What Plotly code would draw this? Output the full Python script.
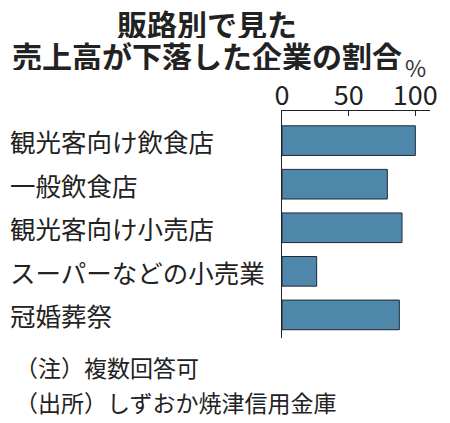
import plotly.graph_objects as go

# data (%)
categories = ['観光客向け飲食店', '一般飲食店', '観光客向け小売店', 'スーパーなどの小売業', '冠婚葬祭']
values = [100, 79, 90, 26, 88]
tick_vals = [0, 50, 100]
title_lines = ['販路別で見た', '売上高が下落した企業の割合']
notes = ['（注）複数回答可', '（出所）しずおか焼津信用金庫']

FONT = 'Noto Sans CJK JP'

fig = go.Figure(go.Bar(
    x=values, y=categories, orientation='h',
    marker=dict(color='#4f87ab', line=dict(color='#1c2a38', width=1)),
    width=0.68, hoverinfo='skip'
))

# category labels, left aligned at the figure edge
for c in categories:
    fig.add_annotation(x=-1.85, xref='paper', y=c, yref='y', text=c,
                       xanchor='left', yanchor='middle', showarrow=False,
                       font=dict(family=FONT, size=25.5, color='#222'))

# two title lines
for t, yy in zip(title_lines, [1.392, 1.251]):
    fig.add_annotation(x=-0.51, xref='paper', y=yy, yref='paper', text=t,
                       xanchor='center', yanchor='middle', showarrow=False,
                       height=31, borderpad=0,
                       font=dict(family=FONT, size=30, color='#222', weight='bold'))

fig.add_annotation(x=0.902, xref='paper', y=1.196, yref='paper', text='%',
                   xanchor='center', yanchor='middle', showarrow=False,
                   font=dict(family=FONT, size=23, color='#333'))

for t, yy in zip(notes, [-0.128, -0.282]):
    fig.add_annotation(x=-1.818, xref='paper', y=yy, yref='paper', text=t,
                       xanchor='left', yanchor='middle', showarrow=False,
                       font=dict(family=FONT, size=23, color='#222'))

# page body adds an 8px margin, so the figure is 8px smaller each way
fig.update_layout(
    width=442, height=415,
    margin=dict(l=274, r=18, t=103, b=85),
    paper_bgcolor='white', plot_bgcolor='white',
    showlegend=False,
    xaxis=dict(side='top', range=[0, 111], tickvals=tick_vals,
               showgrid=False, zeroline=False,
               showline=True, linecolor='#222', linewidth=1.2,
               ticks='inside', ticklen=5, tickcolor='#222',
               ticklabelstandoff=-6,
               tickfont=dict(family=FONT, size=27, color='#222')),
    yaxis=dict(range=[4.53, -0.68], showticklabels=False,
               showgrid=False, zeroline=False,
               showline=True, linecolor='#222', linewidth=1.2, ticks=''),
)

fig.write_html('out.html')
